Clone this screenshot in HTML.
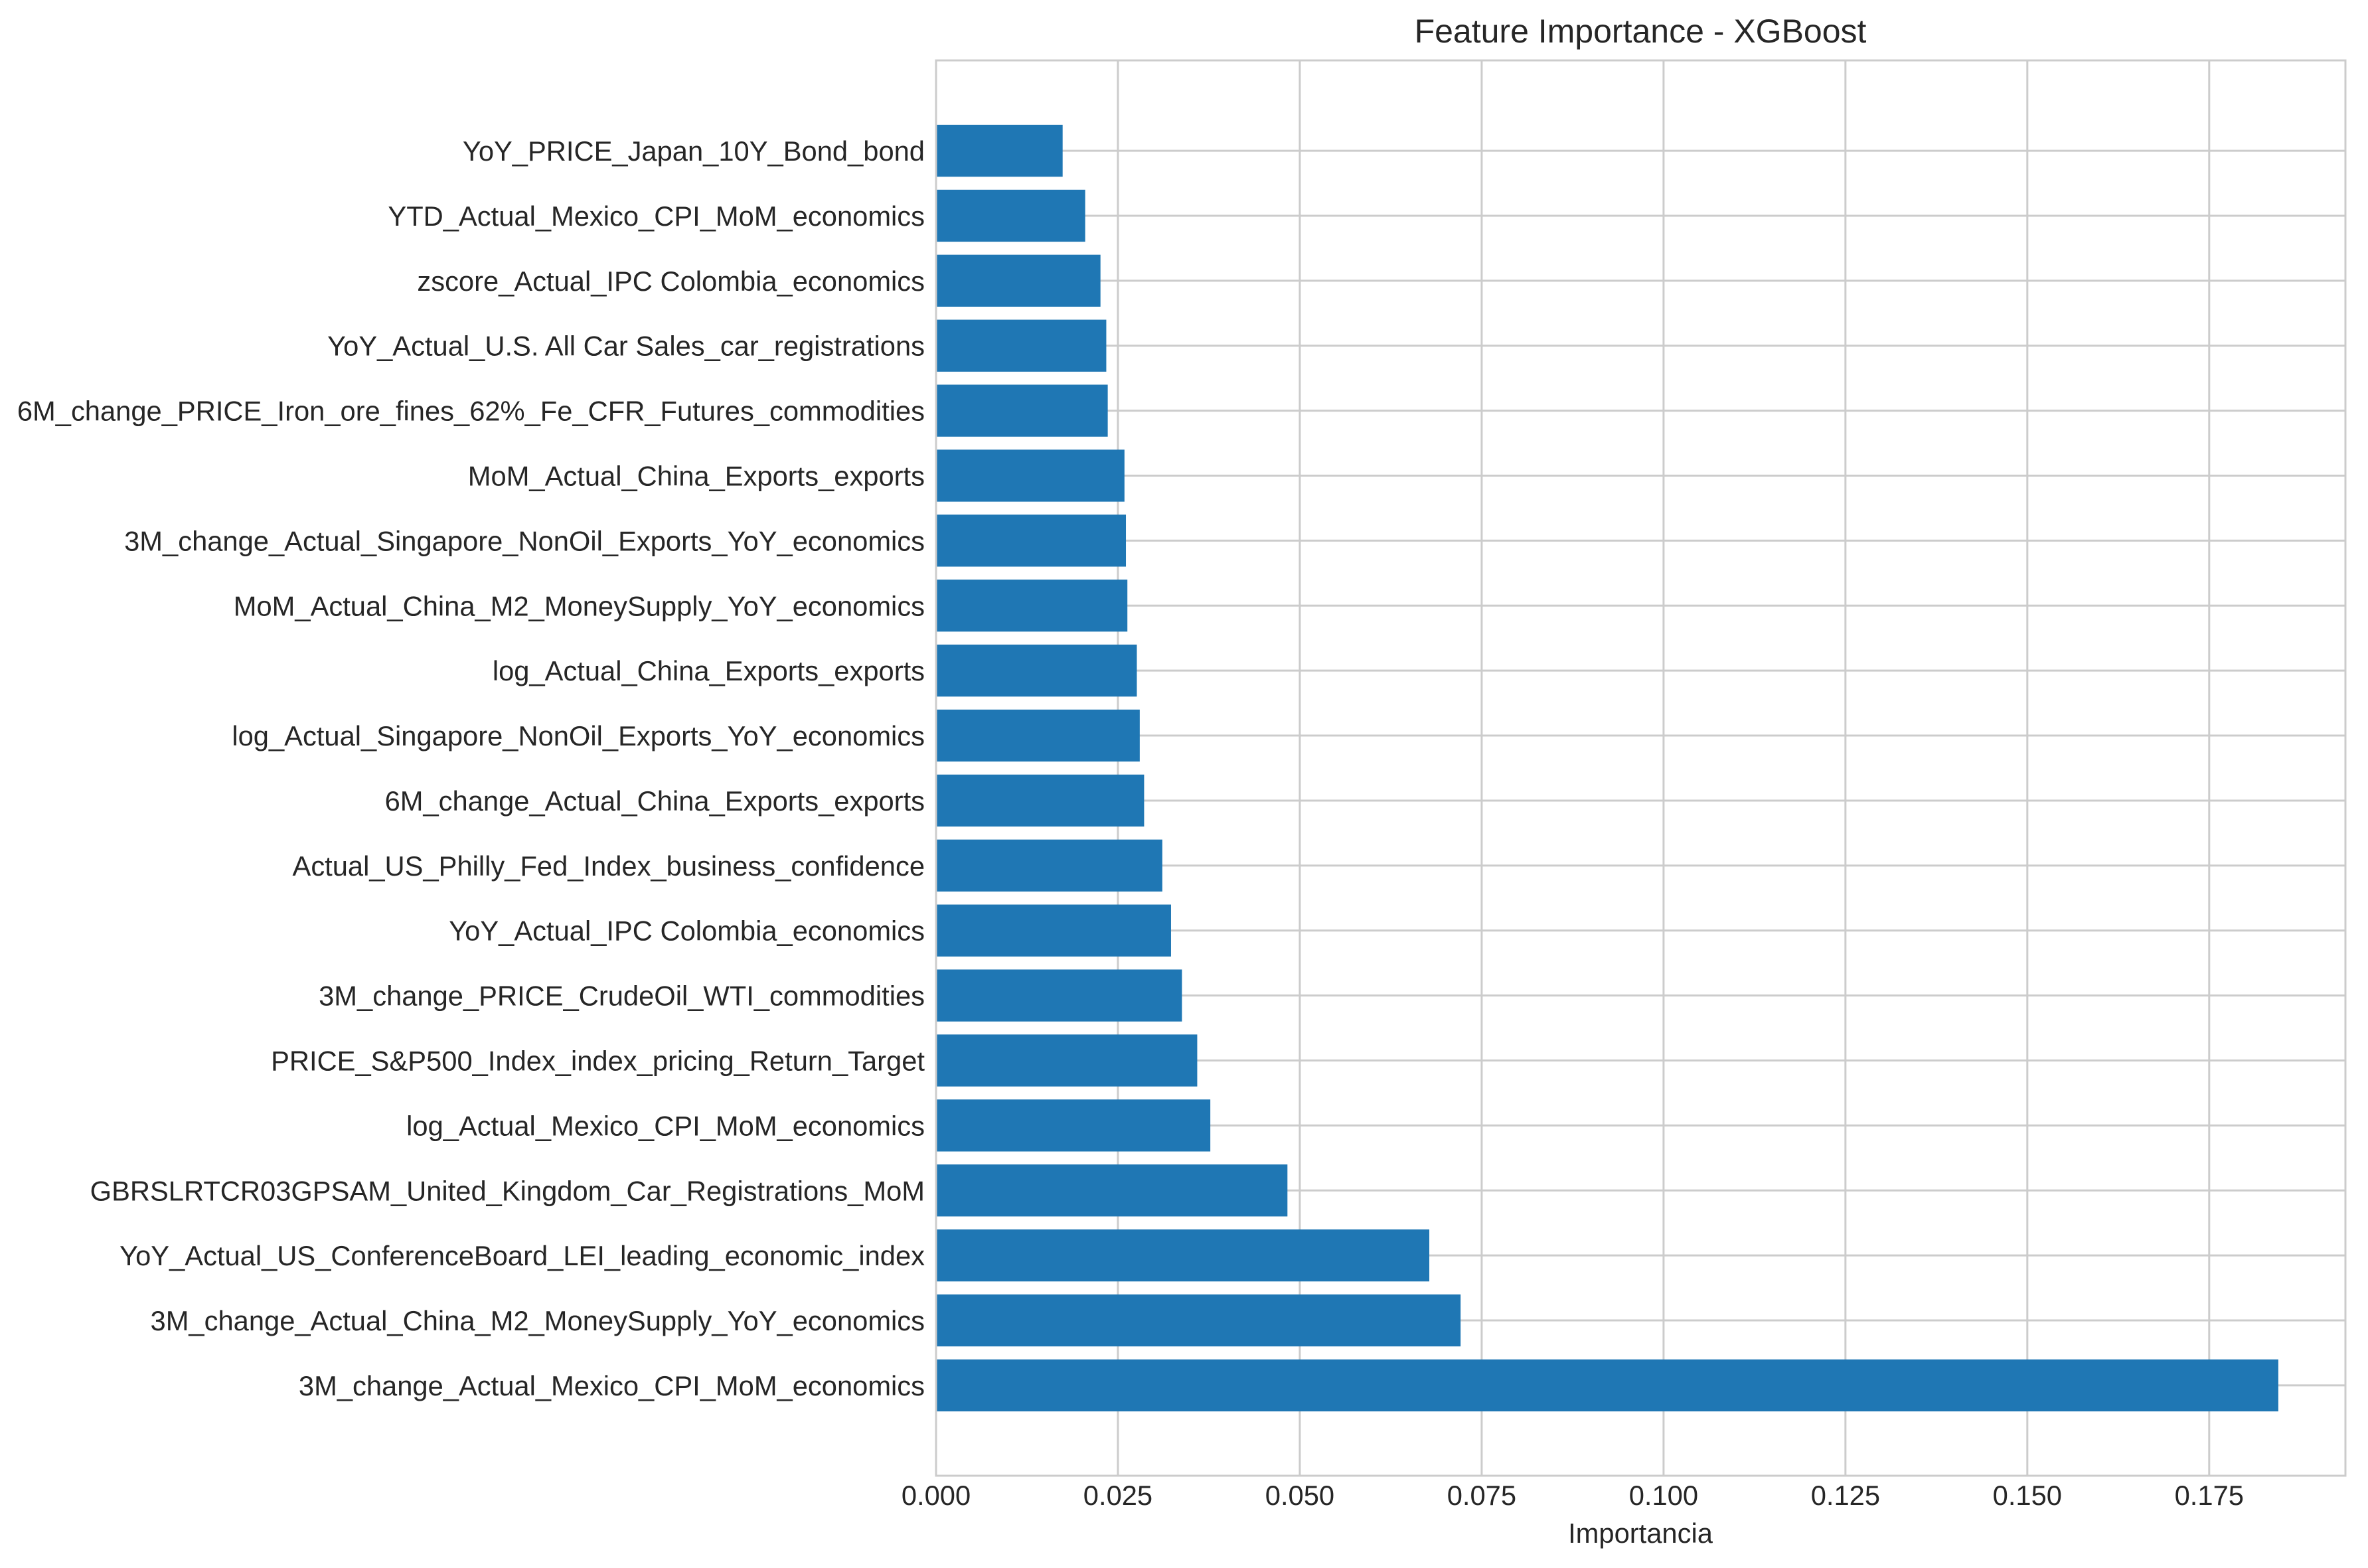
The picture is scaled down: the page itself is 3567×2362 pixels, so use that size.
<!DOCTYPE html>
<html><head><meta charset="utf-8"><style>
html,body{margin:0;padding:0;background:#fff;}
svg{display:block;font-family:"Liberation Sans",Arial,sans-serif;}
</style></head><body>
<svg id="chart" width="3567" height="2362" viewBox="0 0 3567 2362">
<rect width="3567" height="2362" fill="#fff"/>
<g id="grid"></g>
<g id="bars"></g>
<g id="ylabels"></g>
<g id="xlabels"></g>
<rect x="1410" y="91" width="2123" height="2132" fill="none" stroke="#cccccc" stroke-width="3"/>
<text x="2471" y="64" text-anchor="middle" font-size="50" fill="#262626">Feature Importance - XGBoost</text>
<text x="2471" y="2324" text-anchor="middle" font-size="41.7" fill="#262626">Importancia</text>
</svg>
<script>
const features = ["3M_change_Actual_Mexico_CPI_MoM_economics","3M_change_Actual_China_M2_MoneySupply_YoY_economics","YoY_Actual_US_ConferenceBoard_LEI_leading_economic_index","GBRSLRTCR03GPSAM_United_Kingdom_Car_Registrations_MoM","log_Actual_Mexico_CPI_MoM_economics","PRICE_S&P500_Index_index_pricing_Return_Target","3M_change_PRICE_CrudeOil_WTI_commodities","YoY_Actual_IPC Colombia_economics","Actual_US_Philly_Fed_Index_business_confidence","6M_change_Actual_China_Exports_exports","log_Actual_Singapore_NonOil_Exports_YoY_economics","log_Actual_China_Exports_exports","MoM_Actual_China_M2_MoneySupply_YoY_economics","3M_change_Actual_Singapore_NonOil_Exports_YoY_economics","MoM_Actual_China_Exports_exports","6M_change_PRICE_Iron_ore_fines_62%_Fe_CFR_Futures_commodities","YoY_Actual_U.S. All Car Sales_car_registrations","zscore_Actual_IPC Colombia_economics","YTD_Actual_Mexico_CPI_MoM_economics","YoY_PRICE_Japan_10Y_Bond_bond"];
const importances = [0.1845,0.0721,0.0678,0.0483,0.0377,0.0359,0.0338,0.0323,0.0311,0.0286,0.0280,0.0276,0.0263,0.0261,0.0259,0.0236,0.0234,0.0226,0.0205,0.0174];
const xTicks = [0,0.025,0.05,0.075,0.1,0.125,0.15,0.175];
const xTickLabels = ["0.000","0.025","0.050","0.075","0.100","0.125","0.150","0.175"];

const NS="http://www.w3.org/2000/svg";
const L=1410,R=3533,T=91,B=2223;
const xmax=Math.max(...importances)*1.05;
const n=features.length;
const ymin=-0.4-0.05*(n-0.2), ymax=n-0.6+0.05*(n-0.2);
const xs=v=>L+v/xmax*(R-L);
const ys=v=>B-(v-ymin)/(ymax-ymin)*(B-T);
const unit=(B-T)/(ymax-ymin);
function mk(tag,attrs,parent){const e=document.createElementNS(NS,tag);for(const k in attrs)e.setAttribute(k,attrs[k]);document.getElementById(parent).appendChild(e);return e;}

xTicks.forEach((t,i)=>{
  const g=mk('line',{x1:xs(t),x2:xs(t),y1:T,y2:B,stroke:'#cccccc','stroke-width':3},'grid');
  
  
  const tx=mk('text',{x:xs(t),y:2267,'text-anchor':'middle','font-size':41.7,fill:'#262626'},'xlabels');
  tx.textContent=xTickLabels[i];
  
  
});
features.forEach((f,i)=>{
  const g=mk('line',{x1:L,x2:R,y1:ys(i),y2:ys(i),stroke:'#cccccc','stroke-width':3},'grid');
  
  
  const b=mk('rect',{x:L,y:ys(i)-0.4*unit,width:xs(importances[i])-L,height:0.8*unit,fill:'#1f77b4'},'bars');
  
  
  const t=mk('text',{x:1393,y:ys(i)+15,'text-anchor':'end','font-size':41.7,fill:'#262626'},'ylabels');
  t.textContent=f;
  
  
});
</script>
</body></html>
